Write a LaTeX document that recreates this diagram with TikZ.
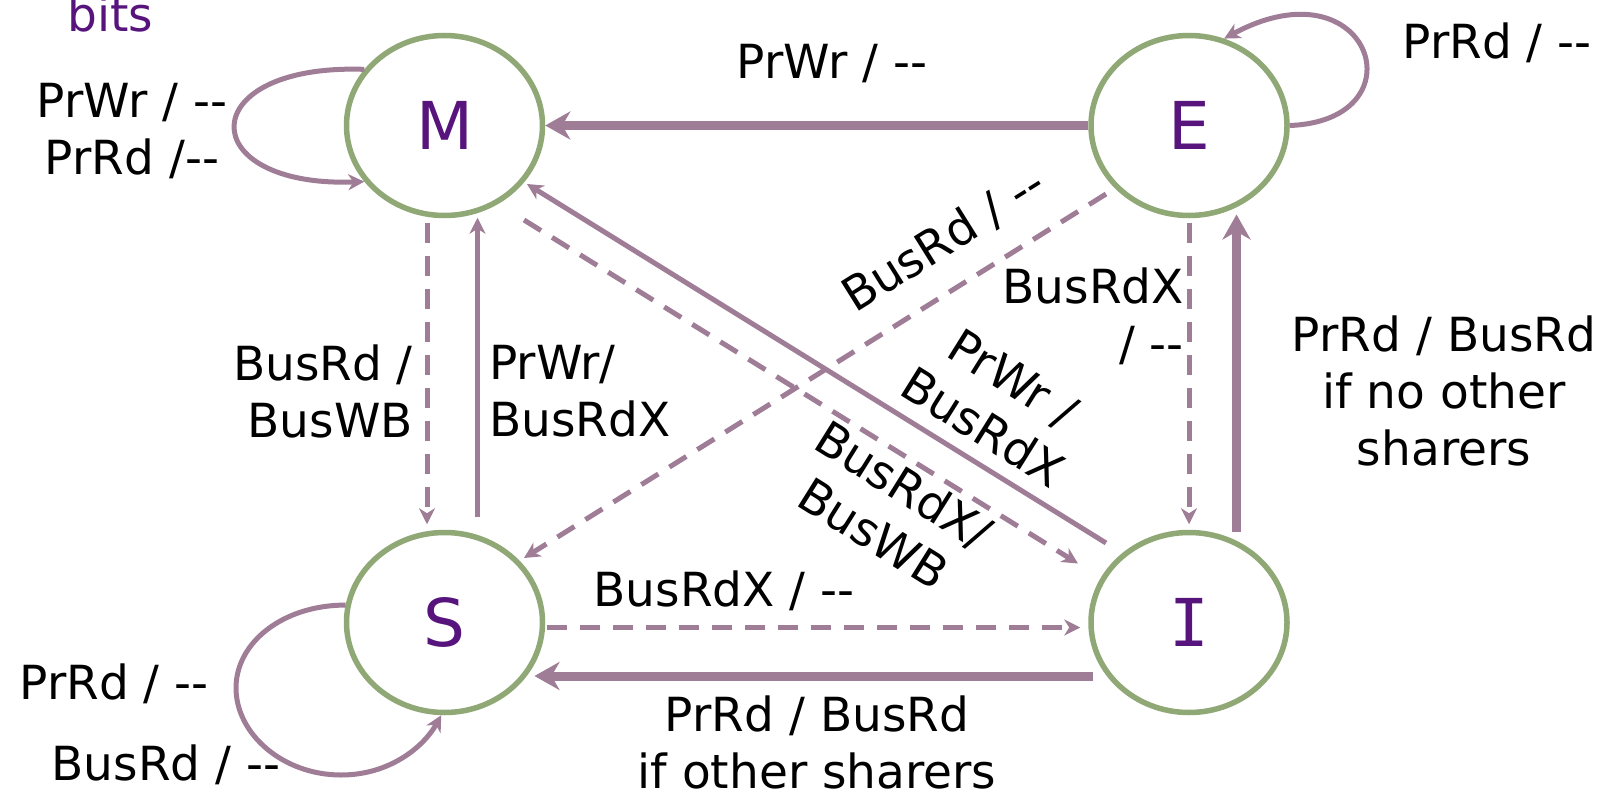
\documentclass[tikz,border=0pt]{standalone}
\usepackage{fontspec}
\setmainfont{DejaVu Sans}[Ligatures=TeXOff]
\newfontfamily\serifI{DejaVu Sans Mono}[Ligatures=TeXOff]
\usetikzlibrary{arrows.meta,calc,shapes.geometric}
\definecolor{stgreen}{HTML}{8FA876}
\definecolor{stpurple}{HTML}{58147D}
\definecolor{edgec}{HTML}{A07D96}
\newcommand\lblfont{\fontsize{47}{57}\selectfont}
\newcommand\stfont{\fontsize{66}{70}\selectfont}
\begin{document}
\begin{tikzpicture}[x=1pt,y=-1pt,
  state/.style={draw=stgreen, line width=5.5pt, ellipse, minimum width=196pt, minimum height=180pt, inner sep=0pt, font=\stfont, text=stpurple},
  thinarr/.style={draw=edgec, line width=5pt, -{Stealth[length=16pt,width=16pt,inset=5pt]}},
  thickarr/.style={draw=edgec, line width=9pt, -{Stealth[length=25pt,width=28pt,inset=8pt]}},
  dashedge/.style={dash pattern=on 20pt off 13pt},
  lbl/.style={font=\lblfont, text=black, inner sep=0pt, align=center}]
\useasboundingbox (0,0) rectangle (1621,792);
\fill[white] (0,0) rectangle (1621,792);

% states
\node[state] (M) at (444.5,125.5) {M};
\node[state] (E) at (1189,125.5) {E};
\node[state] (S) at (444.5,622.5) {S};
\node[state] (I) at (1189,622.5) {\serifI I};

% title fragment
\node[lbl, text=stpurple, anchor=base west] (bits) at (67,32) {bits};

% self loops
\draw[thinarr] (M.145) .. controls ($(M.145)+(-172,-6)$) and ($(M.215)+(-172,6)$) .. (M.215);
\draw[thinarr] (E.east) .. controls ($(E.east)+(133,-5)$) and ($(E.68)+(147,-79)$) .. (E.68);
\draw[thinarr] (S.170) .. controls ($(S.170)+(-62,0)$) and ($(S.center)+(-208.5,19.5)$) .. ($(S.center)+(-208.5,65.5)$)
  .. controls ($(S.center)+(-208.5,111.5)$) and ($(S.center)+(-161.5,152.5)$) .. ($(S.center)+(-103.5,152.5)$)
  .. controls ($(S.center)+(-53.5,152.5)$) and ($(S.center)+(-20,123)$) .. (S.268);

% horizontal / vertical edges
\draw[thickarr] (E.west) -- (M.east);
\draw[thickarr] ($(I.center)+(-96,53.5)$) -- ($(S.center)+(90,53.5)$);
\draw[thickarr] ($(I.center)+(47.5,-90.5)$) -- ($(E.center)+(47.5,89)$);
\draw[thinarr, dashedge] ($(S.east)+(2,5)$) -- ($(I.west)+(-8,5)$);
\draw[thinarr, dashedge] ($(M.south)+(-17.5,4.5)$) -- ($(S.north)+(-17.5,-5.5)$);
\draw[thinarr] ($(S.north)+(33,-12.5)$) -- ($(M.south)+(33,-0.5)$);
\draw[thinarr, dashedge] ($(E.south)+(0,4.5)$) -- ($(I.north)+(0,-5.5)$);

% diagonals
\draw[thinarr] ($(I.center)+(-83,-79.5)$) -- ($(M.center)+(82.5,58.5)$);
\draw[thinarr, dashedge] ($(M.center)+(79.5,94.5)$) -- ($(I.center)+(-111,-59)$);
\draw[thinarr, dashedge] ($(E.center)+(-83,68.5)$) -- ($(S.center)+(79.5,-64.5)$);

% labels
\node[lbl] (l1) at (832,64) {PrWr / --};
\node[lbl] (l2) at (132,131) {PrWr / --\\PrRd /--};
\node[lbl] (l3) at (1497,43) {PrRd / --};
\node[lbl, align=right, anchor=east] (l4) at (413,391) {BusRd /\\BusWB};
\node[lbl, align=left, anchor=west] (l5) at (489,391) {PrWr/\\BusRdX};
\node[lbl, align=right, anchor=east] (l6) at (1184,316) {BusRdX\\/ --};
\node[lbl] (l7) at (1444,391) {PrRd / BusRd\\if no other\\sharers};
\node[lbl] (l8) at (724,591) {BusRdX / --};
\node[lbl] (l9) at (817,742) {PrRd / BusRd\\if other sharers};
\node[lbl] (l10) at (114,684) {PrRd / --};
\node[lbl] (l11) at (166,765) {BusRd / --};
\node[lbl, rotate=32] (l12) at (944,240) {BusRd / --};
\node[lbl, rotate=-32] (l13) at (998,403) {PrWr /\\BusRdX};
\node[lbl, rotate=-32] (l14) at (889,509) {BusRdX/\\BusWB};
\end{tikzpicture}
\end{document}
